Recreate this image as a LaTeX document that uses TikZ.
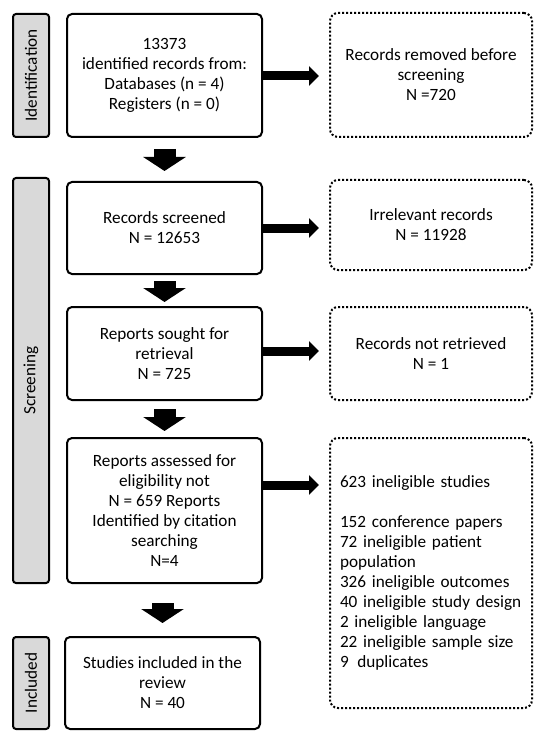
\documentclass[tikz,border=0pt]{standalone}
\usepackage{fontspec}
\setmainfont{Carlito}
\usetikzlibrary{arrows.meta,calc}
\definecolor{barfill}{HTML}{D9D9D9}
\begin{document}
\begin{tikzpicture}[x=1pt,y=-1pt,
  every node/.style={font=\fontsize{17.2}{20}\selectfont, inner sep=0pt},
  sbox/.style={draw, line width=2pt, rounded corners=5pt, align=center, fill=white},
  dbox/.style={draw, line width=2pt, dash pattern=on 2pt off 2pt, rounded corners=8pt, align=center},
  bar/.style={draw, line width=2pt, rounded corners=3pt, fill=barfill, rotate=90, minimum height=36pt},
  rarr/.style={line width=9pt, -{Triangle[length=10pt,width=19pt]}, shorten >=10pt},
  darr/.style={line width=22pt, -{Triangle[length=14pt,width=42pt]}},
]
\useasboundingbox (0,0) rectangle (540,743);

% phase bars
\node[bar, minimum width=123pt] (bar1) at (31,75.5) {Identification};
\node[bar, minimum width=405pt] (bar2) at (31,380.5) {Screening};
\node[bar, minimum width=92pt] (bar3) at (31,683) {Included};

% main boxes
\node[sbox, minimum width=195pt, minimum height=123pt] (b1) at (164.5,75.5)
  {13373\\identified records from:\\Databases (n = 4)\\Registers (n = 0)};
\node[sbox, minimum width=195pt, minimum height=92pt] (b2) at (164.5,228)
  {Records screened\\N = 12653};
\node[sbox, minimum width=195pt, minimum height=93pt] (b3) at (164.5,353.5)
  {Reports sought for\\retrieval\\N = 725};
\node[sbox, minimum width=195pt, minimum height=145pt] (b4) at (164.5,510.5)
  {Reports assessed for\\eligibility not\\N = 659 Reports\\Identified by citation\\searching\\N=4};
\node[sbox, minimum width=195pt, minimum height=92pt] (b5) at (162.5,683)
  {Studies included in the\\review\\N = 40};

% side boxes
\node[dbox, minimum width=202pt, minimum height=124pt] (r1) at (431,75)
  {Records removed before\\screening\\N =720};
\node[dbox, minimum width=202pt, minimum height=90pt] (r2) at (431,225)
  {Irrelevant records\\N = 11928};
\node[dbox, minimum width=202pt, minimum height=93pt] (r3) at (431,353.5)
  {Records not retrieved\\N = 1};
\node[dbox, align=left, text width=182pt, inner xsep=10pt, minimum height=270pt] (r4) at (431,573)
  {\mbox{623 ineligible studies}\\[20pt]\mbox{152 conference papers}\\\mbox{72 ineligible patient}\\population\\\mbox{326 ineligible outcomes}\\\mbox{40 ineligible study design}\\\mbox{2 ineligible language}\\\mbox{22 ineligible sample size}\\\mbox{9\enspace duplicates}};

% down arrows
\draw[darr, shorten <=11pt, shorten >=10pt] (b1.south) -- (b2.north);
\draw[darr, shorten <=6pt, shorten >=4pt] (b2.south) -- (b3.north);
\draw[darr, shorten <=8pt, shorten >=6pt] (b3.south) -- (b4.north);
\draw[darr, shorten <=19pt, shorten >=13pt] (b5.north |- b4.south) -- (b5.north);

% right arrows
\coordinate (a1) at ([yshift=-0.5pt]b1.east);
\coordinate (a2) at (b2.east);
\coordinate (a3) at ([yshift=2.5pt]b3.east);
\coordinate (a4) at ([yshift=25.5pt]b4.east);
\draw[rarr] (a1) -- (a1 -| r1.west);
\draw[rarr] (a2) -- (a2 -| r2.west);
\draw[rarr] (a3) -- (a3 -| r3.west);
\draw[rarr] (a4) -- (a4 -| r4.west);
\end{tikzpicture}
\end{document}
